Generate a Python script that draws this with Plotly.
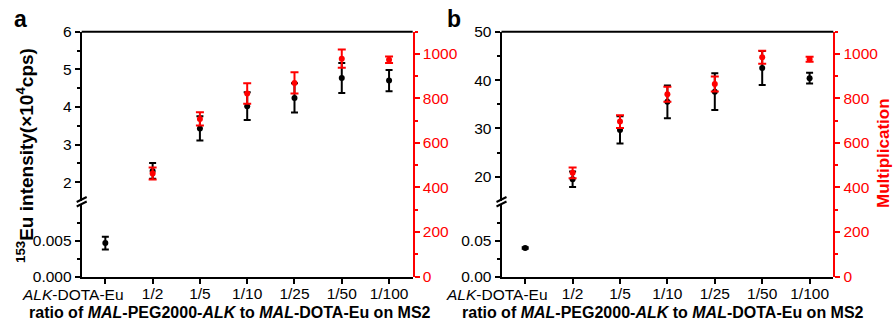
import plotly.graph_objects as go

W, H = 895, 330

categories = ["ALK-DOTA-Eu", "1/2", "1/5", "1/10", "1/25", "1/50", "1/100"]
tick_labels = ["<i>ALK</i>-DOTA-Eu", "1/2", "1/5", "1/10", "1/25", "1/50", "1/100"]

# Panel a
a_black_mean = [0.0047, 2.30, 3.43, 4.02, 4.24, 4.77, 4.70]
a_black_err = [0.0009, 0.21, 0.32, 0.37, 0.39, 0.40, 0.28]
a_red_mean = [463, 708, 822, 870, 979, 974]
a_red_err = [27, 30, 46, 48, 41, 15]

# Panel b
b_black_mean = [0.040, 19.5, 29.7, 35.5, 37.6, 42.5, 40.4]
b_black_err = [0.001, 1.6, 2.8, 3.4, 3.8, 3.5, 1.1]
b_red_mean = [466, 696, 819, 865, 985, 976]
b_red_err = [24, 29, 34, 34, 29, 11]

FONT = "Liberation Sans, Arial, sans-serif"
RED = "#ff0000"


def px(x):
    return x / W


def py(y):
    return 1 - y / H


Y_BOT, Y_TOP = 276.5, 31.7
Y_LOW_TOP, Y_UP_BOT = 205.3, 201.0
lower_dom = [py(Y_BOT), py(Y_LOW_TOP)]
upper_dom = [py(Y_UP_BOT), py(Y_TOP)]
red_dom = [py(Y_BOT), py(Y_TOP)]

A_L, A_R = 81.7, 412.7
B_L, B_R = 501.5, 833.3

fig = go.Figure()


def add_panel(xa, ylow, yup, yred, bm, be, rm, re):
    fig.add_trace(go.Scatter(
        x=categories[:1], y=bm[:1], xaxis=xa, yaxis=ylow, mode="markers",
        marker=dict(color="black", size=6),
        error_y=dict(type="data", array=be[:1], color="black", thickness=2, width=3.5),
        showlegend=False, cliponaxis=False))
    fig.add_trace(go.Scatter(
        x=categories[1:], y=bm[1:], xaxis=xa, yaxis=yup, mode="markers",
        marker=dict(color="black", size=6),
        error_y=dict(type="data", array=be[1:], color="black", thickness=2, width=3.5),
        showlegend=False, cliponaxis=False))
    fig.add_trace(go.Scatter(
        x=categories[1:], y=rm, xaxis=xa, yaxis=yred, mode="markers",
        marker=dict(color=RED, size=6),
        error_y=dict(type="data", array=re, color=RED, thickness=2, width=4),
        showlegend=False, cliponaxis=False))


add_panel("x", "y", "y2", "y3", a_black_mean, a_black_err, a_red_mean, a_red_err)
add_panel("x2", "y4", "y5", "y6", b_black_mean, b_black_err, b_red_mean, b_red_err)

TS = 15.5
tickfont = dict(family=FONT, size=TS, color="black")
redfont = dict(family=FONT, size=TS, color=RED)

# first tick label is drawn as an annotation so it can sit left of its tick
axis_ticktext = [""] + tick_labels[1:]


def xaxis_cfg(dom, anchor):
    return dict(domain=dom, anchor=anchor, type="category",
                categoryorder="array", categoryarray=categories,
                range=[-0.5, 6.5], tickmode="array", tickvals=categories,
                ticktext=axis_ticktext, tickangle=0, automargin=False,
                ticklabelstandoff=-3,
                showline=True, linecolor="black",
                linewidth=2, ticks="outside", ticklen=5, tickwidth=2,
                tickcolor="black", showgrid=False, zeroline=False,
                tickfont=tickfont, fixedrange=True)


def yaxis_black(dom, anchor, rng, tv, mv, fmt):
    return dict(domain=dom, anchor=anchor, range=rng, tickmode="array",
                tickvals=tv, tickformat=fmt, showline=True, linecolor="black",
                linewidth=2, ticks="outside", ticklen=5, tickwidth=2,
                tickcolor="black", showgrid=False, zeroline=False,
                tickfont=tickfont, automargin=False,
                minor=dict(tickmode="array", tickvals=mv, ticks="outside",
                           ticklen=3, tickwidth=2, tickcolor="black",
                           showgrid=False))


def yaxis_red(anchor):
    return dict(domain=red_dom, anchor=anchor, side="right", range=[0, 1100],
                tickmode="array", tickvals=[0, 200, 400, 600, 800, 1000],
                showline=True, linecolor=RED, linewidth=2, ticks="outside",
                ticklen=5, tickwidth=2, tickcolor=RED, showgrid=False,
                zeroline=False, tickfont=redfont, automargin=False,
                minor=dict(tickmode="array", tickvals=[100, 300, 500, 700, 900, 1100],
                           ticks="outside", ticklen=3, tickwidth=2,
                           tickcolor=RED, showgrid=False))


shapes = []
for (L, R) in [(A_L, A_R), (B_L, B_R)]:
    shapes.append(dict(type="line", xref="paper", yref="paper",
                       x0=px(L), x1=px(R), y0=py(Y_TOP), y1=py(Y_TOP),
                       line=dict(color="black", width=2)))
    for yc in [199.5, 204.0]:
        shapes.append(dict(type="line", xref="paper", yref="paper",
                           x0=px(L - 5), x1=px(L + 5), y0=py(yc + 2.5), y1=py(yc - 2.5),
                           line=dict(color="black", width=2)))

bold = dict(family=FONT, size=16, color="black")
annotations = [
    dict(text=tick_labels[0], x=categories[0], xref="x", y=py(294), yref="paper",
         xanchor="right", yanchor="middle", xshift=21, showarrow=False, font=tickfont),
    dict(text=tick_labels[0], x=categories[0], xref="x2", y=py(294), yref="paper",
         xanchor="right", yanchor="middle", xshift=25, showarrow=False, font=tickfont),
    dict(text="<b>ratio of <i>MAL</i>-PEG2000-<i>ALK</i> to <i>MAL</i>-DOTA-Eu on MS2</b>",
         x=px(230.5), y=py(312.7), xref="paper", yref="paper", showarrow=False,
         xanchor="center", yanchor="middle", font=bold),
    dict(text="<b>ratio of <i>MAL</i>-PEG2000-<i>ALK</i> to <i>MAL</i>-DOTA-Eu on MS2</b>",
         x=px(663), y=py(312.7), xref="paper", yref="paper", showarrow=False,
         xanchor="center", yanchor="middle", font=bold),
    dict(text="<b><sup>153</sup>Eu intensity(×10<sup>4</sup>cps)</b>",
         x=px(25), y=py(156), xref="paper", yref="paper", showarrow=False,
         xanchor="center", yanchor="middle", textangle=-90,
         font=dict(family=FONT, size=19, color="black")),
    dict(text="<b>Multiplication</b>",
         x=px(883), y=py(153), xref="paper", yref="paper", showarrow=False,
         xanchor="center", yanchor="middle", textangle=-90,
         font=dict(family=FONT, size=17, color=RED)),
    dict(text="<b>a</b>", x=px(20.5), y=py(19), xref="paper", yref="paper",
         showarrow=False, xanchor="center", yanchor="middle",
         font=dict(family=FONT, size=23, color="black")),
    dict(text="<b>b</b>", x=px(453.5), y=py(19), xref="paper", yref="paper",
         showarrow=False, xanchor="center", yanchor="middle",
         font=dict(family=FONT, size=23, color="black")),
]

fig.update_layout(
    width=W, height=H, margin=dict(l=0, r=0, t=0, b=0, autoexpand=False),
    paper_bgcolor="white", plot_bgcolor="rgba(0,0,0,0)",
    font=dict(family=FONT),
    xaxis=xaxis_cfg([px(A_L), px(A_R)], "y"),
    xaxis2=xaxis_cfg([px(B_L), px(B_R)], "y4"),
    yaxis=yaxis_black(lower_dom, "x", [0, 0.01], [0, 0.005], [0.0025, 0.0075], ".3f"),
    yaxis2=yaxis_black(upper_dom, "x", [1.5, 6], [2, 3, 4, 5, 6], [2.5, 3.5, 4.5, 5.5], "d"),
    yaxis3=yaxis_red("x"),
    yaxis4=yaxis_black(lower_dom, "x2", [0, 0.1], [0, 0.05], [0.025, 0.075], ".2f"),
    yaxis5=yaxis_black(upper_dom, "x2", [15, 50], [20, 30, 40, 50], [25, 35, 45], "d"),
    yaxis6=yaxis_red("x2"),
    shapes=shapes, annotations=annotations, showlegend=False,
)

fig.write_html("out.html", config={"displayModeBar": False})
